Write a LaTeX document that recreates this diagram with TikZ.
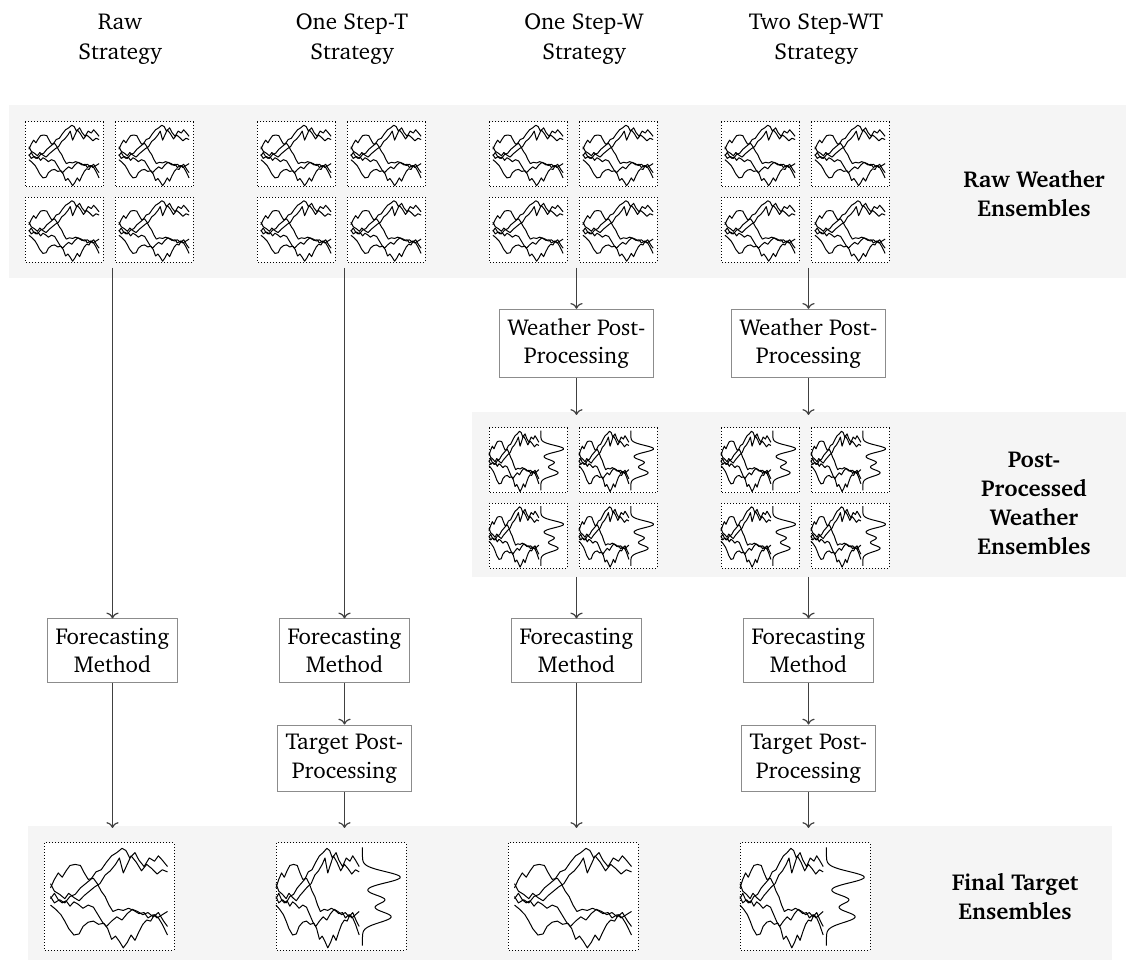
\documentclass[tikz,border=0pt]{standalone}
\usepackage[T1]{fontenc}
\usepackage{charter}
\usetikzlibrary{arrows.meta}

\tikzset{
  flowbox/.style={draw=black!45, line width=0.5pt, fill=white, align=center,
    inner xsep=4.25pt, inner ysep=4.5pt, font=\fontsize{11.5}{14.2}\selectfont},
  flow/.style={->, draw=black!75, line width=0.6pt},
  header/.style={align=center, font=\fontsize{11.5}{15}\selectfont},
  bandlabel/.style={align=center, font=\fontsize{11.5}{14.5}\selectfont\bfseries},
  band/.style={fill=black!4},
  frame/.style={draw=black, densely dotted, line width=0.5pt, fill=white},
  trace/.style={draw=black, line width=0.5pt, line join=round},
  slot/.style={inner sep=0pt, outer sep=0pt, minimum width=85pt},
}

% five ensemble members in unit coordinates (x,y in [0,1], y up)
\newcommand{\enslines}{%
  \draw[trace] (0.05,0.58)--(0.08,0.66)--(0.11,0.72)--(0.14,0.68)--(0.17,0.74)--(0.20,0.79)--(0.24,0.80)--(0.28,0.79)--(0.31,0.72)--(0.34,0.66)--(0.38,0.67)--(0.41,0.62)--(0.44,0.55)--(0.47,0.50)--(0.50,0.42)--(0.53,0.36)--(0.57,0.38)--(0.61,0.37)--(0.65,0.39)--(0.69,0.37)--(0.73,0.34)--(0.77,0.35)--(0.80,0.30)--(0.84,0.33)--(0.87,0.30)--(0.91,0.33)--(0.95,0.36);
  \draw[trace] (0.05,0.50)--(0.08,0.44)--(0.12,0.47)--(0.16,0.44)--(0.20,0.50)--(0.24,0.52)--(0.28,0.58)--(0.32,0.62)--(0.36,0.66)--(0.40,0.73)--(0.44,0.75)--(0.48,0.82)--(0.52,0.88)--(0.56,0.91)--(0.60,0.95)--(0.63,0.93)--(0.66,0.86)--(0.70,0.91)--(0.73,0.84)--(0.77,0.78)--(0.81,0.86)--(0.85,0.83)--(0.88,0.88)--(0.91,0.84)--(0.95,0.78);
  \draw[trace] (0.05,0.62)--(0.08,0.55)--(0.12,0.52)--(0.16,0.48)--(0.19,0.53)--(0.23,0.49)--(0.27,0.46)--(0.31,0.51)--(0.35,0.55)--(0.39,0.59)--(0.43,0.62)--(0.47,0.70)--(0.51,0.74)--(0.55,0.80)--(0.58,0.86)--(0.61,0.72)--(0.64,0.80)--(0.67,0.88)--(0.71,0.82)--(0.75,0.74)--(0.79,0.80)--(0.83,0.76)--(0.87,0.71)--(0.91,0.75)--(0.95,0.73);
  \draw[trace] (0.05,0.42)--(0.09,0.38)--(0.13,0.33)--(0.16,0.27)--(0.19,0.20)--(0.23,0.14)--(0.27,0.15)--(0.30,0.22)--(0.34,0.26)--(0.38,0.27)--(0.42,0.24)--(0.46,0.25)--(0.49,0.20)--(0.52,0.10)--(0.55,0.13)--(0.58,0.08)--(0.61,0.02)--(0.64,0.07)--(0.67,0.14)--(0.70,0.09)--(0.73,0.17)--(0.76,0.24)--(0.79,0.28)--(0.82,0.27)--(0.85,0.33)--(0.88,0.30)--(0.91,0.24)--(0.95,0.14);
  \draw[trace] (0.05,0.48)--(0.08,0.53)--(0.11,0.47)--(0.14,0.44)--(0.17,0.46)--(0.20,0.41)--(0.23,0.45)--(0.26,0.43)--(0.30,0.39)--(0.34,0.42)--(0.38,0.40)--(0.41,0.34)--(0.45,0.26)--(0.48,0.22)--(0.52,0.27)--(0.56,0.31)--(0.60,0.28)--(0.64,0.34)--(0.68,0.38)--(0.72,0.36)--(0.76,0.33)--(0.80,0.35)--(0.84,0.31)--(0.88,0.35)--(0.92,0.27)--(0.95,0.22);
}

% one ensemble panel: left x, top y, width, height (all px), mode (1 = with density)
\newcommand{\ensplot}[5]{%
  \draw[frame] (#1,#2) rectangle ++(#3,#4);
  \begin{scope}[shift={(#1,#2+#4)}, x={(#3*0.5pt,0pt)}, y={(0pt,#4*0.5pt)}]
    \ifnum#5=1
      \begin{scope}[shift={(-0.0356,0)}, xscale=0.711]
        \enslines
      \end{scope}
      \draw[trace] plot[domain=0.04:0.96, samples=160, variable=\t]
        ({0.665 + 0.29*exp(-(\t-0.68)*(\t-0.68)/0.0055)
                + 0.17*exp(-(\t-0.47)*(\t-0.47)/0.0038)
                + 0.22*exp(-(\t-0.31)*(\t-0.31)/0.0055)}, \t);
    \else
      \enslines
    \fi
  \end{scope}}

% 2x2 grid of panels: column x, top y, mode
\newcommand{\ensgrid}[3]{%
  \pgfmathsetmacro{\gxa}{#1-87.5}%
  \pgfmathsetmacro{\gxb}{#1+2.5}%
  \pgfmathsetmacro{\gyb}{#2+75.5}%
  \ensplot{\gxa}{#2}{78}{65}{#3}
  \ensplot{\gxb}{#2}{78}{65}{#3}
  \ensplot{\gxa}{\gyb}{78}{65}{#3}
  \ensplot{\gxb}{\gyb}{78}{65}{#3}}

\begin{document}
\begin{tikzpicture}[x=0.5pt, y=-0.5pt]
\useasboundingbox (0,0) rectangle (1126,962);

% background bands
\fill[band] (9,105) rectangle (1126,278);
\fill[band] (472,412) rectangle (1126,577);
\fill[band] (28,826) rectangle (1112,960);

% column headers
\node[header] (h1) at (120,39) {Raw\\Strategy};
\node[header] (h2) at (352,39) {One Step-T\\Strategy};
\node[header] (h3) at (584,39) {One Step-W\\Strategy};
\node[header] (h4) at (816,39) {Two Step-WT\\Strategy};

% band labels
\node[bandlabel] (lraw) at (1034,193) {Raw Weather\\Ensembles};
\node[bandlabel] (lpost) at (1034,503) {Post-\\Processed\\Weather\\Ensembles};
\node[bandlabel] (lfinal) at (1015,896) {Final Target\\Ensembles};

% raw weather ensembles
\ensgrid{112.5}{122}{0}
\ensgrid{344.5}{122}{0}
\ensgrid{576.5}{122}{0}
\ensgrid{808.5}{122}{0}

% post-processed weather ensembles
\ensgrid{576.5}{428}{1}
\ensgrid{808.5}{428}{1}

% final target ensembles
\ensplot{44}{843}{130}{107}{0}
\ensplot{276}{843}{130}{107}{1}
\ensplot{508}{843}{130}{107}{0}
\ensplot{740}{843}{130}{107}{1}

% anchors for the ensemble groups
\node[slot, minimum height=76.5pt] (raw1) at (112.5,191.5) {};
\node[slot, minimum height=76.5pt] (raw2) at (344.5,191.5) {};
\node[slot, minimum height=76.5pt] (raw3) at (576.5,191.5) {};
\node[slot, minimum height=76.5pt] (raw4) at (808.5,191.5) {};
\node[slot, minimum height=81pt] (pp3) at (576.5,496) {};
\node[slot, minimum height=81pt] (pp4) at (808.5,496) {};
\node[slot, minimum height=63.5pt] (out1) at (112.5,891.5) {};
\node[slot, minimum height=63.5pt] (out2) at (344.5,891.5) {};
\node[slot, minimum height=63.5pt] (out3) at (576.5,891.5) {};
\node[slot, minimum height=63.5pt] (out4) at (808.5,891.5) {};

% processing steps
\node[flowbox] (wp3) at (576.5,343.5) {Weather Post-\\Processing};
\node[flowbox] (wp4) at (808.5,343.5) {Weather Post-\\Processing};
\node[flowbox] (fm1) at (112.5,650.5) {Forecasting\\Method};
\node[flowbox] (fm2) at (344.5,650.5) {Forecasting\\Method};
\node[flowbox] (fm3) at (576.5,650.5) {Forecasting\\Method};
\node[flowbox] (fm4) at (808.5,650.5) {Forecasting\\Method};
\node[flowbox] (tp2) at (344.5,758.5) {Target Post-\\Processing};
\node[flowbox] (tp4) at (808.5,758.5) {Target Post-\\Processing};

% connectors
\draw[flow] (raw1) -- (fm1);
\draw[flow] (fm1) -- (out1);
\draw[flow] (raw2) -- (fm2);
\draw[flow] (fm2) -- (tp2);
\draw[flow] (tp2) -- (out2);
\draw[flow] (raw3) -- (wp3);
\draw[flow] (wp3) -- (pp3);
\draw[flow] (pp3) -- (fm3);
\draw[flow] (fm3) -- (out3);
\draw[flow] (raw4) -- (wp4);
\draw[flow] (wp4) -- (pp4);
\draw[flow] (pp4) -- (fm4);
\draw[flow] (fm4) -- (tp4);
\draw[flow] (tp4) -- (out4);
\end{tikzpicture}
\end{document}
